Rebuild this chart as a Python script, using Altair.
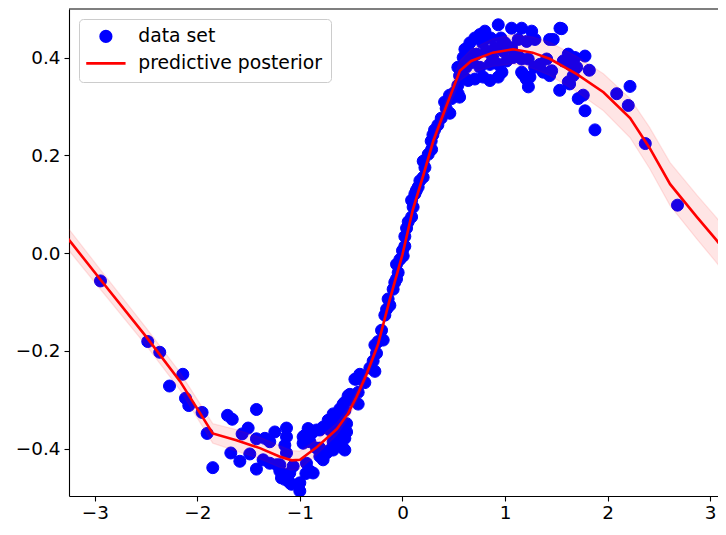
import altair as alt
import pandas as pd

# ---- data ----
series_names = ["data set", "predictive posterior"]
x_ticks = [-3, -2, -1, 0, 1, 2, 3]
y_ticks = [-0.4, -0.2, 0.0, 0.2, 0.4]

pts_x = [
    -2.945, -2.484, -2.367, -2.142, -2.272, -2.116, -2.084, -1.954, -1.905, -1.850,
    -1.706, -1.660, -1.424, -1.674, -1.586, -1.505, -1.564, -1.424, -1.342, -1.294,
    -1.245, -1.131, -1.489, -1.424, -1.359, -1.294, -1.228, -1.196, -1.196, -1.147,
    -1.131, -1.131, -1.180, -1.147, -1.099, -1.099, -1.082, -1.001, -1.001, -1.066,
    -0.942, -0.903, -0.871, -0.936, -0.969, -0.969, -0.920, -0.952, -0.903, -0.887,
    -0.806, -0.838, -0.774, -0.740, -0.806, -0.708, -0.676, -0.660, -0.676, -0.643,
    -0.562, -0.579, -0.562, -0.806, -0.838, -0.774, -0.725, -0.708, -0.643, -0.594,
    -0.545, -0.545, -0.643, -0.611, -0.660, -0.676, -0.611, -0.579, -0.562, -0.562,
    -0.530, -0.513, -0.481, -0.432, -0.432, -0.464, -0.448, -0.416, -0.367,
    -0.318, -0.269, -0.286, -0.253, -0.269, -0.237, -0.188, -0.204, -0.172, -0.155,
    -0.123, -0.140, -0.091, -0.075, -0.058, -0.042, -0.058, -0.025, 0.007, 0.000,
    0.023, 0.023, 0.040, 0.056, 0.089, 0.104, 0.089, 0.121, 0.135, 0.153,
    0.170, 0.202, 0.219, 0.202, 0.251, 0.284, 0.280, 0.297, 0.313, 0.345,
    0.378, 0.426, 0.411, 0.462, 0.459, 0.479, 0.508, 0.543, 0.557, 0.540,
    0.557, 0.540,
    0.592, 0.609, 0.657, 0.706, 0.755, 0.804, 0.934, 1.064, 1.162, 1.260,
    1.536, 0.641, 0.706, 0.787, 0.853, 0.934, 0.755, 0.853, 0.934, 1.016,
    0.723, 0.820, 0.901, 0.982, 1.064, 1.080, 1.126, 1.162, 1.175, 1.207,
    1.243, 1.228, 1.162, 1.226, 1.129, 1.211, 1.292, 1.289, 1.340, 1.373,
    1.438, 1.435, 1.406, 1.470, 1.435, 1.533, 1.630,
    0.62, 0.68, 0.66, 0.78, 0.86, 0.96, 1.00, 0.88, 0.97, 0.60,
    1.552, 1.617, 1.682, 1.633, 1.568, 1.699, 1.665, 1.617, 1.455, 1.780,
    1.822, 1.763, 1.714, 1.780, 1.877, 2.089, 2.219, 2.202, 2.368, 2.682,
]
pts_y = [
    -0.057, -0.181, -0.203, -0.248, -0.272, -0.297, -0.312, -0.326, -0.369, -0.439,
    -0.332, -0.340, -0.320, -0.409, -0.426, -0.358, -0.370, -0.380, -0.379, -0.386,
    -0.366, -0.358, -0.411, -0.442, -0.423, -0.430, -0.433, -0.433, -0.446, -0.393,
    -0.409, -0.376, -0.460, -0.463, -0.450, -0.470, -0.473, -0.487, -0.470, -0.436,
    -0.451, -0.446, -0.450, -0.430, -0.389, -0.376, -0.359, -0.373, -0.386, -0.369,
    -0.416, -0.399, -0.423, -0.409, -0.399, -0.403, -0.403, -0.396, -0.386, -0.383,
    -0.403, -0.399, -0.379, -0.362, -0.362, -0.356, -0.342, -0.362, -0.369, -0.363,
    -0.366, -0.349, -0.356, -0.342, -0.332, -0.329, -0.319, -0.309, -0.322, -0.305,
    -0.292, -0.289, -0.302, -0.309, -0.285, -0.258, -0.258, -0.248, -0.265,
    -0.235, -0.242, -0.221, -0.205, -0.188, -0.181, -0.178, -0.158, -0.127, -0.115,
    -0.107, -0.094, -0.074, -0.060, -0.053, -0.040, -0.023, -0.013, -0.006, 0.005,
    0.014, 0.034, 0.051, 0.064, 0.074, 0.094, 0.108, 0.121, 0.128, 0.135,
    0.148, 0.155, 0.175, 0.188, 0.202, 0.212, 0.229, 0.242, 0.252, 0.262,
    0.276, 0.296, 0.309, 0.286, 0.323, 0.316, 0.329, 0.326, 0.319, 0.343,
    0.363, 0.380,
    0.400, 0.417, 0.430, 0.440, 0.447, 0.454, 0.467, 0.460, 0.460, 0.454,
    0.460, 0.353, 0.356, 0.360, 0.353, 0.360, 0.380, 0.386, 0.386, 0.393,
    0.407, 0.413, 0.420, 0.413, 0.420, 0.400, 0.403, 0.370, 0.366, 0.356,
    0.360, 0.340, 0.397, 0.397, 0.437, 0.433, 0.437, 0.380, 0.386, 0.370,
    0.370, 0.363, 0.397, 0.437, 0.437, 0.333, 0.346,
    0.380, 0.390, 0.410, 0.430, 0.440, 0.440, 0.430, 0.400, 0.370, 0.360,
    0.459, 0.407, 0.400, 0.386, 0.393, 0.380, 0.363, 0.350, 0.373, 0.403,
    0.374, 0.323, 0.316, 0.291, 0.252, 0.326, 0.341, 0.302, 0.224, 0.098,
]

line_x = [-3.26, -2.95, -2.50, -2.17, -1.85, -1.62, -1.39, -1.20, -1.08, -1.00,
          -0.84, -0.64, -0.53, -0.45, -0.35, -0.24, -0.13, 0.00, 0.10, 0.20,
          0.30, 0.43, 0.56, 0.67, 0.88, 1.08, 1.27, 1.44, 1.70, 1.96,
          2.22, 2.41, 2.61, 2.87, 3.06, 3.16]
line_y = [0.029, -0.053, -0.171, -0.262, -0.369, -0.383, -0.399, -0.416, -0.424, -0.423,
          -0.398, -0.360, -0.328, -0.295, -0.248, -0.188, -0.100, -0.003, 0.088, 0.157,
          0.229, 0.302, 0.373, 0.393, 0.410, 0.417, 0.410, 0.397, 0.366, 0.329,
          0.276, 0.215, 0.141, 0.074, 0.027, 0.000]
band_half = [0.022, 0.020, 0.018, 0.018, 0.020, 0.022, 0.022, 0.022, 0.020, 0.018,
             0.015, 0.012, 0.010, 0.010, 0.009, 0.008, 0.007, 0.007, 0.007, 0.008,
             0.010, 0.014, 0.020, 0.024, 0.028, 0.030, 0.032, 0.034, 0.036, 0.038,
             0.040, 0.042, 0.044, 0.045, 0.046, 0.046]

pts = pd.DataFrame({"x": pts_x, "y": pts_y, "series": series_names[0]})
pred = pd.DataFrame({
    "x": line_x,
    "y": line_y,
    "lo": [y - h for y, h in zip(line_y, band_half)],
    "hi": [y + h for y, h in zip(line_y, band_half)],
})

W, H = 649, 487
xs = alt.Scale(domain=[-3.252, 3.077], nice=False, zero=False)
ys = alt.Scale(domain=[-0.497, 0.4993], nice=False, zero=False)
xaxis = alt.Axis(values=x_ticks, format="d", title=None, labelPadding=2)
yaxis = alt.Axis(values=y_ticks, format=".1f", title=None, labelPadding=4)

legend = alt.Legend(
    title=None, orient="none", legendX=10, legendY=10, padding=8,
    cornerRadius=4, fillColor="rgba(255,255,255,0.8)", strokeColor="#cccccc",
    labelFont="DejaVu Sans", labelFontSize=18.8, labelColor="black", labelLimit=400,
    symbolSize=110, symbolStrokeWidth=2.7, symbolOffset=9.5, labelOffset=23,
    rowPadding=6,
)
color_scale = alt.Scale(domain=series_names, range=["#0000ff", "#ff0000"])
shape_scale = alt.Scale(domain=series_names, range=["circle", "M-3.75,0H3.75"])

points = alt.Chart(pts).mark_point(filled=True, size=144, strokeWidth=1, opacity=1, clip=True).encode(
    x=alt.X("x:Q", scale=xs, axis=xaxis),
    y=alt.Y("y:Q", scale=ys, axis=yaxis),
    fill=alt.Fill("series:N", scale=color_scale, legend=legend),
    stroke=alt.Stroke("series:N", scale=color_scale, legend=legend),
    shape=alt.Shape("series:N", scale=shape_scale, legend=legend),
)

band = alt.Chart(pred).mark_area(
    color="#ff0000", fillOpacity=0.1, stroke="#ff0000", strokeOpacity=0.1,
    strokeWidth=1.3, clip=True
).encode(
    x=alt.X("x:Q", scale=xs, title=None),
    y=alt.Y("lo:Q", scale=ys, title=None),
    y2="hi:Q",
)

line = alt.Chart(pred).mark_line(color="#ff0000", strokeWidth=2.6, clip=True).encode(
    x=alt.X("x:Q", scale=xs, title=None),
    y=alt.Y("y:Q", scale=ys, title=None),
)

top = alt.Chart(pd.DataFrame({"a": [0]})).mark_rule(color="black", strokeWidth=1.1).encode(
    x=alt.value(0), x2=alt.value(W), y=alt.value(0)
)

chart = alt.layer(points, band, line, top).properties(
    width=W, height=H,
    padding={"left": 61, "top": 1, "right": 0, "bottom": 26},
    autosize=alt.AutoSizeParams(type="none"),
).configure_view(stroke=None).configure_axis(
    grid=False, domainColor="black", domainWidth=1.1, tickColor="black",
    tickWidth=1.1, tickSize=5, labelFont="DejaVu Sans", labelFontSize=18.4,
    labelColor="black", labelFlush=False, labelOverlap=False,
)

chart.save("out.html", embed_options={"renderer": "svg", "actions": False})
